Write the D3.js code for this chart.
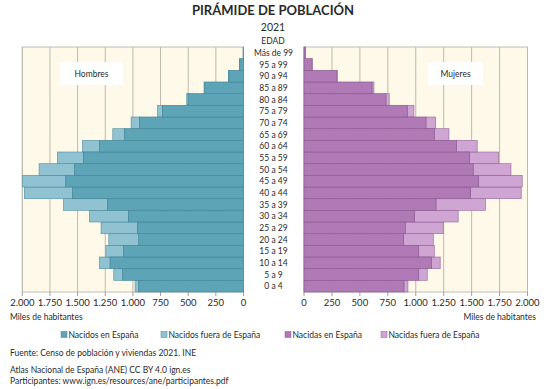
<!DOCTYPE html>
<html><head><meta charset="utf-8">
<script src="https://cdn.jsdelivr.net/npm/d3@7"></script>
<style>
html,body{margin:0;padding:0;background:#fff;}
svg text{font-family:Lato,"Noto Sans",sans-serif;fill:#2a2a2a;}
</style></head>
<body>
<svg id="c" width="546" height="389"></svg>
<script>
// Age groups, from youngest to oldest
const ages = ["0 a 4","5 a 9","10 a 14","15 a 19","20 a 24","25 a 29","30 a 34","35 a 39","40 a 44","45 a 49","50 a 54","55 a 59","60 a 64","65 a 69","70 a 74","75 a 79","80 a 84","85 a 89","90 a 94","95 a 99","Más de 99"];
// Thousands of inhabitants
const menSpain   = [947,1092,1206,1086,947,959,1041,1231,1547,1607,1529,1448,1303,1077,941,733,500,350,132,34,4];
const menAbroad  = [33,81,97,159,271,329,352,397,434,393,319,235,154,105,75,45,14,7,4,2,0];
const womenSpain = [894,1026,1139,1026,892,906,987,1181,1491,1563,1514,1479,1366,1166,1091,924,733,608,294,72,11];
const womenAbroad= [36,77,80,140,265,340,393,444,453,390,338,262,184,131,87,60,30,18,5,2,1];
const ticks = [0,250,500,750,1000,1250,1500,1750,2000];
const legendLabels = ["Nacidos en España","Nacidos fuera de España","Nacidas en España","Nacidas fuera de España"];

const C = {mDark:"#5ea4b7", mLight:"#91c2d2", mStroke:"#44889b",
           wDark:"#b07ab6", wLight:"#cfa5d3", wStroke:"#8d5c93",
           bg:"#fef9e8", grid:"#bdb9ac", frame:"#b3afa3"};

const svg = d3.select("#c");
const yTop = 47, yBot = 292;
const y = d3.scaleBand().domain(ages.slice().reverse()).range([yTop, yBot]).padding(0);
const xL = d3.scaleLinear().domain([0,2000]).range([243.5, 22.3]);
const xR = d3.scaleLinear().domain([0,2000]).range([304, 527.5]);

function panel(x, spain, abroad, dark, light, stroke, label, lx, lw){
  const g = svg.append("g");
  const r0 = Math.min(x(0), x(2000)), r1 = Math.max(x(0), x(2000));
  g.append("rect").attr("x", r0).attr("y", yTop).attr("width", r1-r0).attr("height", yBot-yTop)
    .attr("fill", C.bg).attr("stroke", C.frame).attr("stroke-width", 0.8);
  g.selectAll("line.grid").data(ticks).join("line").attr("class","grid")
    .attr("x1", d=>x(d)).attr("x2", d=>x(d)).attr("y1", yTop).attr("y2", yBot)
    .attr("stroke", C.grid).attr("stroke-width", 1);
  g.selectAll("line.tk").data(ticks).join("line").attr("class","tk")
    .attr("x1", d=>x(d)).attr("x2", d=>x(d)).attr("y1", yBot).attr("y2", yBot+4)
    .attr("stroke", "#888").attr("stroke-width", 0.8);
  g.selectAll("text.tl").data(ticks).join("text").attr("class","tl")
    .attr("x", d=>x(d)).attr("y", yBot+13.5).attr("text-anchor","middle")
    .attr("font-size", 9.5).text(d=>d3.format(",")(d).replace(/,/g,"."));
  g.append("rect").attr("x", lx).attr("y", 62).attr("width", lw).attr("height", 23).attr("fill","#fff");
  g.append("text").attr("x", lx+lw/2).attr("y", 77).attr("text-anchor","middle")
    .attr("font-size", 8.5).text(label);
  const data = ages.map((a,i)=>({a, s:spain[i], f:abroad[i]}));
  g.selectAll("rect.f").data(data).join("rect").attr("class","f")
    .attr("x", d=>Math.min(x(d.s), x(d.s+d.f))).attr("width", d=>Math.abs(x(d.s+d.f)-x(d.s)))
    .attr("y", d=>y(d.a)).attr("height", y.bandwidth())
    .attr("fill", light).attr("stroke", stroke).attr("stroke-width", 0.7).attr("stroke-opacity",0.8);
  g.selectAll("rect.s").data(data).join("rect").attr("class","s")
    .attr("x", d=>Math.min(x(0), x(d.s))).attr("width", d=>Math.abs(x(d.s)-x(0)))
    .attr("y", d=>y(d.a)).attr("height", y.bandwidth())
    .attr("fill", dark).attr("stroke", stroke).attr("stroke-width", 0.7);
}
panel(xL, menSpain, menAbroad, C.mDark, C.mLight, C.mStroke, "Hombres", 60, 63);
panel(xR, womenSpain, womenAbroad, C.wDark, C.wLight, C.wStroke, "Mujeres", 428, 55);

svg.selectAll("text.age").data(ages).join("text").attr("class","age")
  .attr("x", 273.5).attr("y", d=>y(d)+y.bandwidth()/2+3).attr("text-anchor","middle")
  .attr("font-size", 8.5).text(d=>d);

svg.append("text").attr("x",273).attr("y",15).attr("text-anchor","middle")
  .attr("font-size",13).attr("font-weight","bold").text("PIRÁMIDE DE POBLACIÓN");
svg.append("text").attr("x",273).attr("y",31).attr("text-anchor","middle")
  .attr("font-size",10.5).text("2021");
svg.append("text").attr("x",273).attr("y",44).attr("text-anchor","middle")
  .attr("font-size",8.5).text("EDAD");

svg.append("text").attr("x",10).attr("y",320).attr("font-size",8.5).text("Miles de habitantes");
svg.append("text").attr("x",536).attr("y",320).attr("text-anchor","end").attr("font-size",8.5).text("Miles de habitantes");

const legColors = [C.mDark, C.mLight, C.wDark, C.wLight];
const legStroke = [C.mStroke, C.mStroke, C.wStroke, C.wStroke];
const legX = [61, 161, 285, 381];
const lg = svg.selectAll("g.leg").data(legendLabels).join("g").attr("class","leg")
  .attr("transform", (d,i)=>`translate(${legX[i]},335)`);
lg.append("rect").attr("x",0).attr("y",-3.5).attr("width",6).attr("height",6)
  .attr("fill",(d,i)=>legColors[i]).attr("stroke",(d,i)=>legStroke[i]).attr("stroke-width",0.5);
lg.append("text").attr("x",7.5).attr("y",3).attr("font-size",8.5).text(d=>d);

svg.append("text").attr("x",10).attr("y",356).attr("font-size",8.5).text("Fuente: Censo de población y viviendas 2021. INE");
svg.append("text").attr("x",10).attr("y",373).attr("font-size",8.5).text("Atlas Nacional de España (ANE) CC BY 4.0 ign.es");
svg.append("text").attr("x",10).attr("y",384).attr("font-size",8.5).text("Participantes: www.ign.es/resources/ane/participantes.pdf");
</script>
</body></html>
